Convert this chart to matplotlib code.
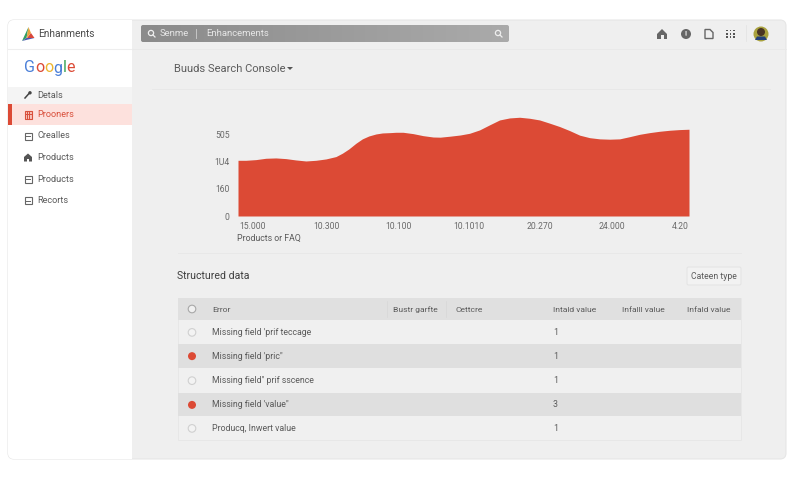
import matplotlib
matplotlib.use("Agg")
import matplotlib.pyplot as plt
import numpy as np
from matplotlib.colors import LinearSegmentedColormap
from matplotlib.patches import FancyBboxPatch, Rectangle, Circle, Polygon

plt.rcParams['font.family'] = ['Roboto', 'DejaVu Sans']

# ---- chart data
area_x = [-0.21, -0.10, 0.04, 0.18, 0.32, 0.46, 0.60, 0.74, 0.88, 1.02, 1.16, 1.25, 1.34, 1.44, 1.53, 1.62, 1.72,
          1.81, 1.92, 2.00, 2.10, 2.24, 2.38, 2.52, 2.62, 2.76, 2.90, 3.03, 3.17, 3.31, 3.45, 3.59, 3.73, 3.87,
          4.01, 4.15, 4.29, 4.43, 4.57, 4.71, 4.85, 4.99, 5.13, 5.27, 5.41, 5.55, 5.69, 5.83, 5.97, 6.10]
area_y = [330, 330, 334, 342, 344, 340, 332, 326, 330, 338, 352, 372, 397, 431, 457, 474, 486,
          492, 494, 496, 496, 488, 476, 468, 467, 473, 480, 490, 510, 540, 569, 581, 585, 579,
          569, 550, 530, 506, 479, 464, 457, 455, 457, 470, 484, 494, 502, 508, 512, 514]
x_ticks = [0, 1.03, 2.03, 3.02, 4.02, 5.02, 5.98]
x_labels = ['15.000', '10.300', '10.100', '10.1010', '20.270', '24.000', '4.20']
y_ticks = [0, 160, 320, 480]
y_labels = ['0', '160', '1U4', '505']
x_title = 'Products or FAQ'

# ---- table / navigation text
nav_items = ['Detals', 'Prooners', 'Crealles', 'Products', 'Products', 'Recorts']
table_header = ['Error', 'Bustr garfte', 'Cettcre', 'Intald value', 'Infalll value', 'Infald value']
table_errors = ['Missing field \'prif teccage', 'Missing field \'pric"', 'Missing field" prif sscence',
                'Missing field \'value"', 'Producq, Inwert value']
table_counts = ['1', '1', '1', '3', '1']
table_flagged = [False, True, False, True, False]

RED = '#dc4a35'
TXT = '#5a5a5a'
BG = '#efefef'

fig = plt.figure(figsize=(8, 4.8), dpi=100, facecolor='white')
ui = fig.add_axes([0, 0, 1, 1])

# card
card = FancyBboxPatch((8, 20), 778, 439, boxstyle='round,pad=0,rounding_size=6',
                      fc=BG, ec='#e6e6e6', lw=0.8, zorder=-3)
ui.add_patch(card)
side = FancyBboxPatch((8, 20), 124, 439, boxstyle='round,pad=0,rounding_size=6', fc='white', ec='none', zorder=-2)
ui.add_patch(side)
ui.add_patch(Rectangle((126, 20), 6, 439, fc='white', ec='none', zorder=-2))
ui.plot([8, 132], [48.5, 48.5], color='#eeeeee', lw=0.8)
ui.plot([132, 786], [48.5, 48.5], color='#e9e9e9', lw=0.6)

# logo
ui.add_patch(Polygon([[28.5, 27], [22, 41], [26.5, 38]], fc='#2f9e63', ec='none'))
ui.add_patch(Polygon([[28.5, 27], [26.5, 38], [31, 33]], fc='#e8a33c', ec='none'))
ui.add_patch(Polygon([[31, 33], [34.5, 38], [27, 38]], fc='#d9473a', ec='none'))
ui.add_patch(Polygon([[22, 41], [26.5, 38], [34.5, 38]], fc='#4a58b0', ec='none'))
ui.text(38, 34, 'Enhanments', fontsize=7.3, color='#4a4a4a', va='center')

# search bar
bar = FancyBboxPatch((141, 25), 368, 17, boxstyle='round,pad=0,rounding_size=2', fc='none', ec='none')
ui.add_patch(bar)
shade = LinearSegmentedColormap.from_list('bar', ['#8b8b8b', '#aaaaaa'])
img = ui.imshow(np.linspace(0, 1, 64)[None, :], extent=(141, 509, 42, 25), cmap=shade, aspect='auto', zorder=-1)
img.set_clip_path(bar)
ui.add_patch(Circle((151, 33), 2.6, fc='none', ec='#eeeeee', lw=0.9))
ui.plot([153, 155], [35, 37], color='#eeeeee', lw=0.9)
ui.text(160, 34, 'Senme', fontsize=6.8, color='#e6e6e6', va='center')
ui.plot([196, 196], [29, 38], color='#cfcfcf', lw=0.6)
ui.text(206, 34, 'Enhancements', fontsize=6.8, color='#e6e6e6', va='center')
ui.add_patch(Circle((498, 33), 2.6, fc='none', ec='#eeeeee', lw=0.9))
ui.plot([500, 502], [35, 37], color='#eeeeee', lw=0.9)

# top-right icons
ui.add_patch(Polygon([[662, 29], [667, 34], [667, 39], [657, 39], [657, 34]], fc='#666666', ec='none'))
ui.add_patch(Rectangle((660.5, 35), 3, 4, fc=BG, ec='none'))
ui.add_patch(Circle((686, 34), 5, fc='#666666', ec='none'))
ui.text(686, 34, '!', fontsize=5.5, color=BG, ha='center', va='center', fontweight='bold')
ui.add_patch(Polygon([[705, 29.5], [710, 29.5], [713, 32.5], [713, 38.5], [705, 38.5]], fc='none', ec='#666666', lw=1))
for px in (727, 730.5, 734):
    for py in (30.5, 34, 37):
        ui.add_patch(Rectangle((px - 0.9, py - 0.9), 1.8, 1.8, fc='#555555', ec='none'))
ui.plot([745.5, 745.5], [25, 41], color='#e4e4e4', lw=0.6)
ui.add_patch(Circle((761, 34), 7.5, fc='#a9a23e', ec='none'))
ui.add_patch(Circle((761, 32), 4, fc='#4a3524', ec='none'))
ui.add_patch(Polygon([[755, 40], [767, 40], [765, 36.5], [757, 36.5]], fc='#23407a', ec='none'))

# Google wordmark
gx = [24, 35, 44.2, 53.4, 62.5, 66.4]
for ch, px, col in zip('Google', gx, ['#4a7fd8', '#dc4a35', '#eeb52e', '#4a7fd8', '#3aa556', '#dc4a35']):
    ui.text(px, 68, ch, fontsize=11.5, color=col, va='center')

# navigation
ui.add_patch(Rectangle((8, 87), 124, 17, fc='#f4f4f4', ec='none'))
ui.add_patch(Rectangle((8, 104), 124, 21, fc='#fde1dd', ec='none'))
ui.add_patch(Rectangle((8, 104), 4, 21, fc=RED, ec='none'))
nav_y = [95, 114.5, 136, 157.5, 179, 200.5]
for i, (name, py) in enumerate(zip(nav_items, nav_y)):
    col = '#d9503c' if i == 1 else TXT
    ui.text(37, py, name, fontsize=6.6, color=col, va='center')
    if i == 0:
        ui.plot([25, 29], [98, 93.5], color='#444444', lw=1.1)
        ui.add_patch(Circle((30, 92.8), 1.7, fc='#444444', ec='none'))
    elif i == 1:
        ui.add_patch(Rectangle((24.5, py - 3.5), 7, 7.5, fc='#f6c4bc', ec='#d9503c', lw=0.8))
        for off in (-1.2, 1.2):
            ui.plot([28 + off, 28 + off], [py - 4, py + 4], color='#d9503c', lw=0.7)
        ui.plot([24.5, 31.5], [py - 1, py - 1], color='#d9503c', lw=0.7)
    elif i == 3:
        ui.add_patch(Polygon([[28, py - 4], [32, py - 0.5], [32, py + 4], [24, py + 4], [24, py - 0.5]], fc='#555555', ec='none'))
        ui.add_patch(Rectangle((27, py + 1), 2, 3, fc='white', ec='none'))
    else:
        ui.add_patch(Rectangle((24.5, py - 3.5), 7, 7, fc='none', ec='#666666', lw=0.8))
        ui.plot([26, 30], [py, py], color='#666666', lw=0.7)

# heading
ui.text(174, 68.5, 'Buuds Search Console', fontsize=8, color='#5c5c5c', va='center')
ui.add_patch(Polygon([[287, 67], [293, 67], [290, 70]], fc='#555555', ec='none'))
ui.plot([152, 770], [89, 89], color='#e8e8e8', lw=0.7)
ui.plot([178, 741], [252.5, 252.5], color='#e8e8e8', lw=0.7)

# area chart
L, R, T, B = 238, 689, 110, 216
ax = fig.add_axes([L / 800, 1 - B / 480, (R - L) / 800, (B - T) / 480])
ax.patch.set_alpha(0)
ax.fill_between(area_x, 0, area_y, color=RED, lw=0)
ax.set_xlim(area_x[0], area_x[-1])
ax.set_ylim(0, 628)
ax.set_xticks(x_ticks, x_labels)
ax.set_yticks(y_ticks, y_labels)
ax.tick_params(length=0, labelsize=6.2, labelcolor='#6a6a6a')
ax.tick_params(axis='x', pad=4)
ax.tick_params(axis='y', pad=6)
for s in ax.spines.values():
    s.set_visible(False)
ui.text(237, 238.5, x_title, fontsize=6.3, color=TXT, va='center')

# structured data
ui.text(177, 276, 'Structured data', fontsize=7.6, color='#3f3f3f', va='center')
ui.add_patch(FancyBboxPatch((687, 267), 54, 18, boxstyle='round,pad=0,rounding_size=1.5', fc='#f2f2f2', ec='#e3e3e3', lw=0.7))
ui.text(714, 276.5, 'Cateen type', fontsize=6.2, color=TXT, ha='center', va='center')

row_edges = [298, 320, 344, 367.5, 393, 416, 440]
ui.add_patch(Rectangle((178, 298), 563, 142, fc='#f0f0f0', ec='#e6e6e6', lw=0.6))
ui.add_patch(Rectangle((178, 298), 563, 22, fc='#e0e0e0', ec='none'))
for k in (1, 3):
    ui.add_patch(Rectangle((178, row_edges[k + 1]), 563, row_edges[k + 2] - row_edges[k + 1], fc='#dfdfdf', ec='none'))
head_x = [212, 393, 456, 553, 622, 687]
for name, px in zip(table_header, head_x):
    ui.text(px, 309.5, name, fontsize=6.1, color=TXT, va='center')
ui.plot([446, 446], [301, 317], color='#d6d6d6', lw=0.5)
ui.plot([387, 387], [301, 317], color='#d6d6d6', lw=0.5)
ui.add_patch(Circle((192, 309), 3.8, fc='#f0f0f0', ec='#a8a8a8', lw=0.8))
for i, (err, cnt, flag) in enumerate(zip(table_errors, table_counts, table_flagged)):
    cy = (row_edges[i + 1] + row_edges[i + 2]) / 2 + 0.4
    if flag:
        ui.add_patch(Circle((192, cy), 4, fc=RED, ec='none'))
    else:
        ui.add_patch(Circle((192, cy), 3.8, fc='#f3f3f3', ec='#d0d0d0', lw=0.8))
    ui.text(212.5, cy, err, fontsize=6.3, color=TXT, va='center')
    ui.text(555.5, cy, cnt, fontsize=6.3, color=TXT, ha='center', va='center')

ui.set_xlim(0, 800); ui.set_ylim(480, 0); ui.axis('off')
fig.savefig('out.png', dpi=100)
